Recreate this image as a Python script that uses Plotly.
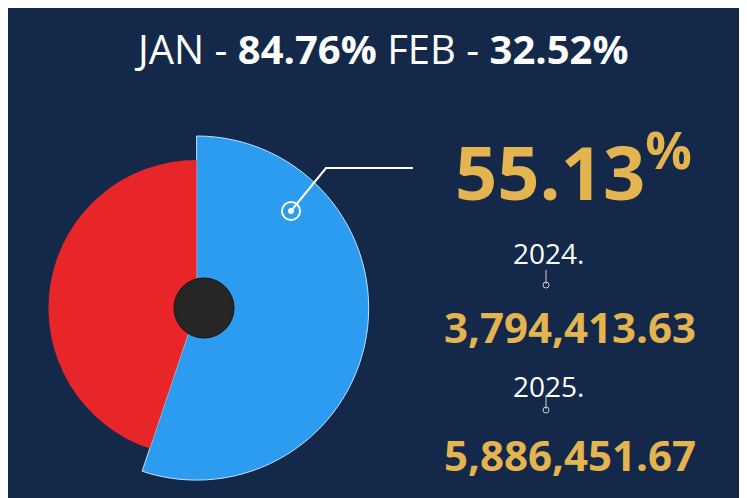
import plotly.graph_objects as go

labels = ["FEB share", "Remainder"]
shares = [55.13, 44.87]
jan_pct = "84.76%"
feb_pct = "32.52%"
years = ["2024.", "2025."]
totals = ["3,794,413.63", "5,886,451.67"]

blue = "#2b9cf0"
red = "#e8262a"
gold = "#e3b450"

fig = go.Figure()
# bigger blue slice
fig.add_trace(go.Pie(labels=labels, values=shares, sort=False, direction="clockwise", rotation=0,
                     marker=dict(colors=[blue, "rgba(0,0,0,0)"], line=dict(color=["#bfe0ff", "rgba(0,0,0,0)"], width=[1, 0])),
                     textinfo="none", hoverinfo="skip", showlegend=False,
                     domain=dict(x=[0.022, 0.483], y=[0.052, 0.743])))
# smaller red slice
fig.add_trace(go.Pie(labels=labels, values=shares, sort=False, direction="clockwise", rotation=0,
                     marker=dict(colors=["rgba(0,0,0,0)", red], line=dict(width=0)),
                     textinfo="none", hoverinfo="skip", showlegend=False,
                     domain=dict(x=[0.054, 0.451], y=[0.100, 0.695])))

W, H = 747, 498
def px(x, y):
    return x / W, 1 - y / H

shapes = [
    dict(type="circle", xref="paper", yref="paper", x0=166/W, x1=226/W, y0=1-330/H, y1=1-270/H,
         fillcolor="#262626", line=dict(color="#111", width=1)),
    dict(type="path", xref="paper", yref="paper",
         path=f"M {283/W} {1-203/H} L {318/W} {1-160/H} L {405/W} {1-160/H}",
         line=dict(color="white", width=2)),
    dict(type="circle", xref="paper", yref="paper", x0=274/W, x1=292/W, y0=1-212/H, y1=1-194/H,
         line=dict(color="white", width=2)),
    dict(type="circle", xref="paper", yref="paper", x0=280/W, x1=286/W, y0=1-206/H, y1=1-200/H,
         fillcolor="white", line=dict(width=0)),
]
for yy in (270, 395):
    shapes.append(dict(type="line", xref="paper", yref="paper", x0=538/W, x1=538/W,
                       y0=1-(yy-8)/H, y1=1-(yy+6)/H, line=dict(color="#ccc", width=1)))
    shapes.append(dict(type="circle", xref="paper", yref="paper", x0=535/W, x1=541/W,
                       y0=1-(yy+10)/H, y1=1-(yy+4)/H, line=dict(color="#ccc", width=1)))

ann = []
def text(x, y, t, size, color="white"):
    xx, yy = px(x, y)
    ann.append(dict(x=xx, y=yy, xref="paper", yref="paper", text=t, showarrow=False,
                    font=dict(size=size, color=color, family="Open Sans"), xanchor="center", yanchor="middle"))

text(373, 40, f"JAN - <b>{jan_pct}</b> FEB - <b>{feb_pct}</b>", 40)
text(565, 160, f"<b>{shares[0]:.2f}</b><b><sup>%</sup></b>", 74, gold)
text(540, 245, years[0], 28)
text(562, 318, f"<b>{totals[0]}</b>", 42, gold)
text(540, 378, years[1], 28)
text(562, 446, f"<b>{totals[1]}</b>", 42, gold)

fig.update_layout(width=W, height=H, margin=dict(l=0, r=0, t=0, b=0),
                  paper_bgcolor="#14294a", plot_bgcolor="#14294a",
                  shapes=shapes, annotations=ann)
fig.write_html("out.html")
